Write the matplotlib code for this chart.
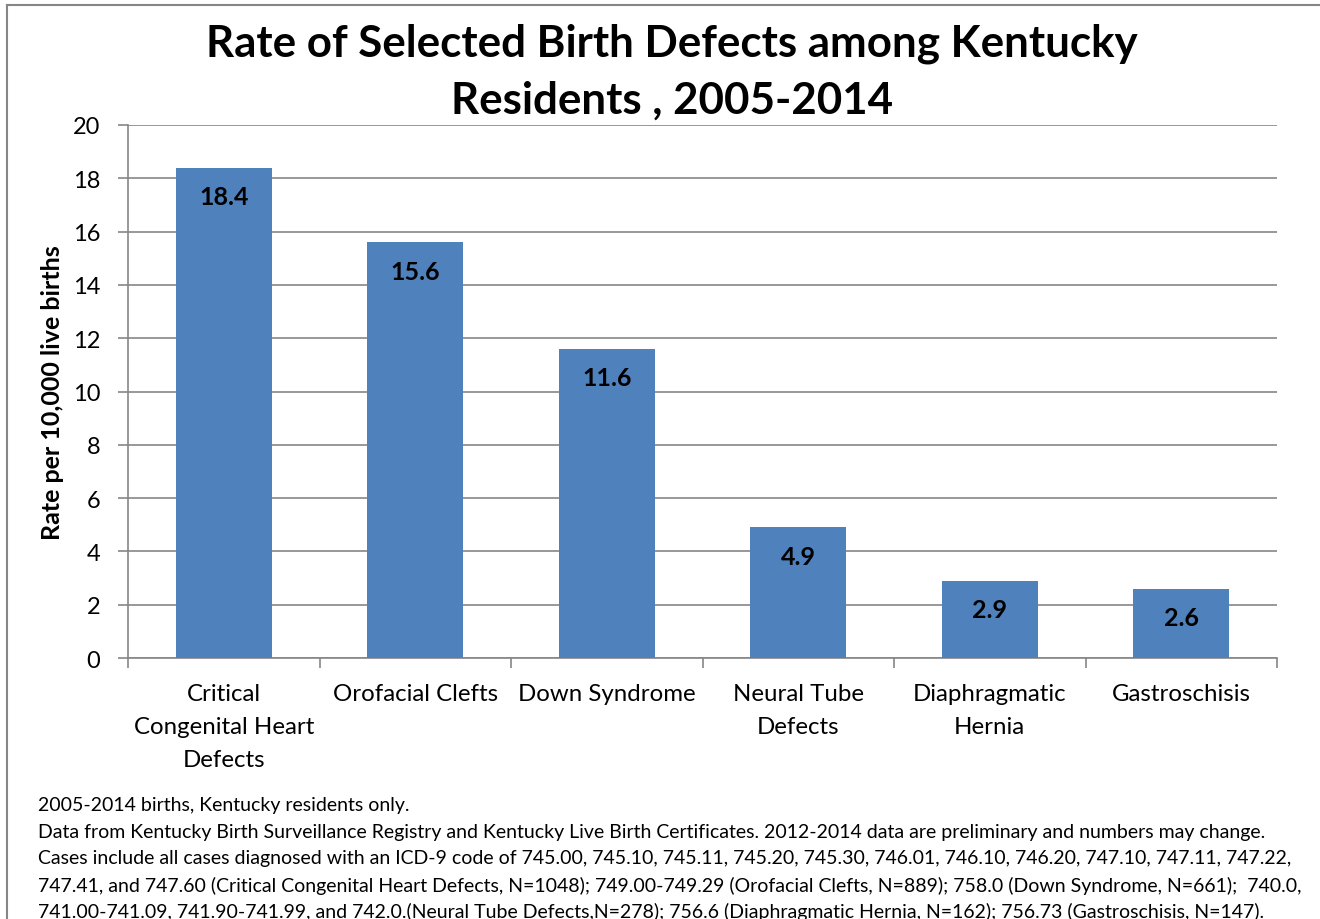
import matplotlib
matplotlib.use("Agg")
import matplotlib.pyplot as plt
from matplotlib.lines import Line2D

plt.rcParams['font.family'] = ['Lato', 'DejaVu Sans']

categories = ["Critical\nCongenital Heart\nDefects", "Orofacial Clefts", "Down Syndrome",
              "Neural Tube\nDefects", "Diaphragmatic\nHernia", "Gastroschisis"]
rates = [18.4, 15.6, 11.6, 4.9, 2.9, 2.6]
yticks = [0, 2, 4, 6, 8, 10, 12, 14, 16, 18, 20]

title = "Rate of Selected Birth Defects among Kentucky\nResidents , 2005-2014"
ylabel = "Rate per 10,000 live births"
notes = [
    "2005-2014 births, Kentucky residents only.",
    "Data from Kentucky Birth Surveillance Registry and Kentucky Live Birth Certificates. 2012-2014 data are preliminary and numbers may change.",
    "Cases include all cases diagnosed with an ICD-9 code of 745.00, 745.10, 745.11, 745.20, 745.30, 746.01, 746.10, 746.20, 747.10, 747.11, 747.22,",
    "747.41, and 747.60 (Critical Congenital Heart Defects, N=1048); 749.00-749.29 (Orofacial Clefts, N=889); 758.0 (Down Syndrome, N=661);  740.0,",
    "741.00-741.09, 741.90-741.99, and 742.0.(Neural Tube Defects,N=278); 756.6 (Diaphragmatic Hernia, N=162); 756.73 (Gastroschisis, N=147).",
]

W, H = 1320, 920
fig = plt.figure(figsize=(W / 100, H / 100), dpi=100)
fig.patch.set_facecolor("white")

# chart frame (left and top edges visible)
frame_col = "#868686"
fig.add_artist(Line2D([7 / W, 7 / W], [0, 1 - 6 / H], transform=fig.transFigure, color=frame_col, lw=1.5))
fig.add_artist(Line2D([7 / W, 1], [1 - 6 / H, 1 - 6 / H], transform=fig.transFigure, color=frame_col, lw=1.5))

left, right, top, bottom = 128, 1277, 126, 659
ax = fig.add_axes([left / W, 1 - bottom / H, (right - left) / W, (bottom - top) / H])

grid_col = "#868686"
x = list(range(len(categories)))
ax.bar(x, rates, width=0.5, color="#4F81BD", zorder=3)
for xi, v in zip(x, rates):
    ax.text(xi, v - 1.09, f"{v}", ha="center", va="center", fontsize=18, fontweight="bold", zorder=4)

ax.set_xlim(-0.5, len(categories) - 0.5)
ax.set_ylim(0, 20)
ax.set_yticks(yticks)
ax.set_yticklabels([str(t) for t in yticks], fontsize=17)
ax.yaxis.grid(True, color=grid_col, lw=1.2, zorder=0)
ax.set_axisbelow(True)

for s in ["top", "right"]:
    ax.spines[s].set_visible(False)
for s in ["left", "bottom"]:
    ax.spines[s].set_color(grid_col)
    ax.spines[s].set_linewidth(1.2)

ax.tick_params(axis="y", direction="out", length=7, color=grid_col, width=1.2, pad=13)
# x ticks at category boundaries, labels at centers
ax.set_xticks([i - 0.5 for i in range(len(categories) + 1)])
ax.set_xticklabels([])
ax.tick_params(axis="x", direction="out", length=7, color=grid_col, width=1.2)
for xi, lab in zip(x, categories):
    ax.text(xi, -0.95, lab, ha="center", va="top", fontsize=17.3, linespacing=1.7,
            transform=ax.transData)

ax.set_ylabel(ylabel, fontsize=18, fontweight="bold")
ax.yaxis.set_label_coords((53 - left) / (right - left), 0.5)
ax.yaxis.label.set_va("center")

fig.text(672 / W, 1 - 72 / H, title, ha="center", va="center", fontsize=31.6, fontweight="bold",
         linespacing=1.53)

for i, line in enumerate(notes):
    fig.text(38 / W, 1 - (806 + i * 26.5) / H, line, ha="left", va="center", fontsize=14)

fig.savefig("out.png", dpi=100)
